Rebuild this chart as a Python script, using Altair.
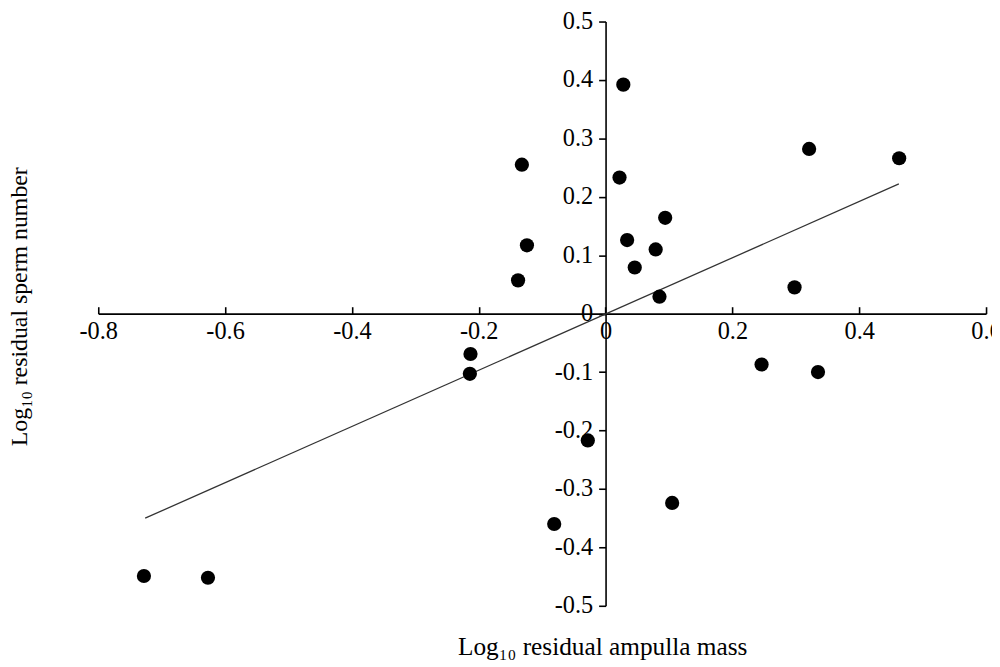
import altair as alt
import pandas as pd

# Residual ampulla mass (x) and residual sperm number (y), log10
x_vals = [-0.728, -0.627, -0.213, -0.214, -0.138, -0.124, -0.132, -0.081, -0.028,
          0.028, 0.022, 0.034, 0.046, 0.079, 0.094, 0.085, 0.105, 0.246, 0.298,
          0.321, 0.335, 0.463]
y_vals = [-0.449, -0.452, -0.069, -0.103, 0.057, 0.117, 0.255, -0.360, -0.217,
          0.392, 0.233, 0.126, 0.079, 0.110, 0.164, 0.029, -0.324, -0.087, 0.045,
          0.282, -0.100, 0.266]

# regression line end points
fit_x = [-0.726, 0.4625]
fit_y = [-0.350, 0.222]

x_ticks = [-0.8, -0.6, -0.4, -0.2, 0, 0.2, 0.4, 0.6]
y_ticks = [-0.5, -0.4, -0.3, -0.2, -0.1, 0, 0.1, 0.2, 0.3, 0.4, 0.5]

x_title = "Log\u2081\u2080 residual ampulla mass"
y_title = "Log\u2081\u2080 residual sperm number"

pts = pd.DataFrame({"x": x_vals, "y": y_vals})
fit = pd.DataFrame({"x": fit_x, "y": fit_y})

W, H = 895, 589
X0 = W * 4 / 7
Y0 = H / 2
FONT = "Liberation Serif"
label_expr = ("datum.value == 0 ? '0' : (datum.value < 0 ? '-' + format(-datum.value, '.1f') "
              ": format(datum.value, '.1f'))")

xscale = alt.Scale(domain=[-0.8, 0.6], nice=False, zero=False)
yscale = alt.Scale(domain=[-0.5, 0.5], nice=False, zero=False)

y_axis = alt.Axis(
    orient="left", offset=-X0, values=y_ticks, labelExpr=label_expr,
    grid=False, domain=True, domainColor="black", domainWidth=1.6,
    ticks=True, tickSize=7, tickColor="black", tickWidth=1.6,
    labelFont=FONT, labelFontSize=24.5, labelColor="black", labelPadding=6,
    labelOverlap=False, labelFlush=False,
    title=y_title, titleFont=FONT, titleFontSize=24, titleFontWeight="normal",
    titleColor="black", titleAngle=270, titleX=-584, titleY=287,
    titleAlign="center", titleBaseline="alphabetic",
)

x_label_axis = alt.Axis(
    orient="bottom", offset=-Y0, values=x_ticks, labelExpr=label_expr,
    grid=False, domain=False, ticks=False, tickSize=0,
    labelFont=FONT, labelFontSize=24.5, labelColor="black", labelPadding=6,
    labelOverlap=False, labelFlush=False,
    title=x_title, titleFont=FONT, titleFontSize=25.5, titleFontWeight="normal",
    titleColor="black", titleX=508, titleY=344,
    titleAlign="center", titleBaseline="alphabetic",
)

x_tick_axis = alt.Axis(
    orient="top", offset=-Y0, values=x_ticks, labels=False,
    grid=False, domain=True, domainColor="black", domainWidth=1.6,
    ticks=True, tickSize=7, tickColor="black", tickWidth=1.6, title="",
)

line = alt.Chart(fit).mark_line(color="#333333", strokeWidth=1.3).encode(
    x=alt.X("x:Q", scale=xscale, axis=x_tick_axis),
    y=alt.Y("y:Q", scale=yscale, axis=y_axis),
)

points = alt.Chart(pts).mark_circle(size=205, color="black", opacity=1).encode(
    x=alt.X("x:Q", scale=xscale, axis=x_label_axis),
    y=alt.Y("y:Q", scale=yscale, axis=y_axis),
)

chart = (
    alt.layer(line, points)
    .resolve_axis(x="independent")
    .properties(
        width=W, height=H,
        autosize=alt.AutoSizeParams(type="none"),
        padding={"left": 91, "top": 11, "right": 6, "bottom": 52},
        background="white",
    )
    .configure_view(strokeWidth=0)
)

chart.save("out.html", embed_options={"renderer": "svg", "actions": False})
